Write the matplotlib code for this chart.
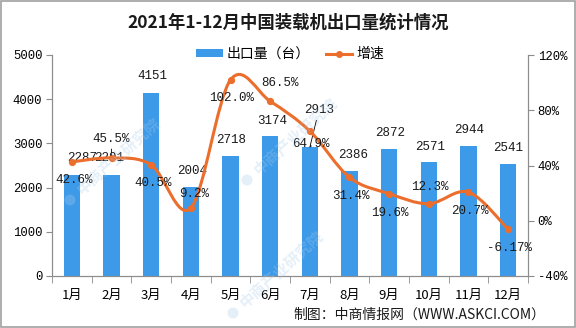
import matplotlib
matplotlib.use("Agg")
import matplotlib.pyplot as plt
from matplotlib.path import Path
from matplotlib.patches import PathPatch, Patch, Rectangle, Ellipse
from matplotlib.lines import Line2D

# ---- data -------------------------------------------------------------
months = ["1月", "2月", "3月", "4月", "5月", "6月",
          "7月", "8月", "9月", "10月", "11月", "12月"]
exports = [2287, 2291, 4151, 2004, 2718, 3174, 2913, 2386, 2872, 2571, 2944, 2541]
growth = [42.6, 45.5, 40.5, 9.2, 102.0, 86.5, 64.9, 31.4, 19.6, 12.3, 20.7, -6.17]
left_ticks = [0, 1000, 2000, 3000, 4000, 5000]
right_ticks = [-40, 0, 40, 80, 120]

title = "2021年1-12月中国装载机出口量统计情况"
bar_name = "出口量（台）"
line_name = "增速"
source = "制图：中商情报网（WWW.ASKCI.COM）"
brand = "中商产业研究院"

# ---- style ------------------------------------------------------------
BLUE = "#3C9AE8"
ORANGE = "#EC6E2C"
AXIS = "#8C8C8C"
CJK = ["Noto Sans CJK SC", "DejaVu Sans"]
MONO = ["Liberation Mono", "Noto Sans CJK SC"]
plt.rcParams["font.family"] = CJK

W, H = 576, 328
PX = 0.72  # pixels -> points at 100 dpi

# label offsets (pixels right, pixels up)
bar_off = [(10, 17), (-2, 17), (1, 16.5), (1, 16.5), (1, 16), (2, 15),
           (9, 37), (4, 15.5), (1, 16), (1, 15.5), (1, 16), (0, 16)]
line_off = [(2, -18), (0, 19), (2, -18), (3, 14), (1, -18), (10, 18),
            (1, -13), (1, -18.6), (1, -19), (1, 17), (1, -19), (1, -19)]

# brand stamp anchors (pixels from top-left)
stamps = [(70, 200), (247, 180), (233, 313)]

fig = plt.figure(figsize=(W / 100, H / 100), dpi=100)
ax = fig.add_axes([52 / W, 1 - 276 / H, 476 / W, 221 / H])
ax2 = ax.twinx()
ax.set_facecolor("none")

x = list(range(len(months)))

# bars
ax.bar(x, exports, width=0.42, color=BLUE, zorder=2)
ax.set_xlim(-0.5, len(months) - 0.5)
ax.set_ylim(left_ticks[0], left_ticks[-1])
ax.set_yticks(left_ticks)
ax.set_yticklabels([str(t) for t in left_ticks], fontsize=8.8, family=MONO)
ax.set_xticks(x)
ax.set_xticklabels(months, fontsize=9.5)
ax.set_xticks([i + 0.5 for i in range(-1, len(months))], minor=True)
ax.tick_params(axis="x", which="major", length=0, pad=9)
ax.tick_params(axis="x", which="minor", length=5, color=AXIS, direction="out")
ax.tick_params(axis="y", length=4, color=AXIS, pad=3)

ax.spines["top"].set_visible(False)
ax2.spines["top"].set_visible(False)
for a in (ax, ax2):
    for sp in ["left", "right", "bottom"]:
        a.spines[sp].set_color(AXIS)
        a.spines[sp].set_linewidth(0.8)

ax2.set_ylim(right_ticks[0], right_ticks[-1])
ax2.set_yticks(right_ticks)
ax2.set_yticklabels([f"{t}%" for t in right_ticks], fontsize=8.8, family=MONO)
ax2.tick_params(axis="y", length=4, color=AXIS, pad=3)

# smoothed growth line (Catmull-Rom through the points as cubic Beziers)
pts = list(zip(x, growth))
verts = [pts[0]]
codes = [Path.MOVETO]
n = len(pts)
for i in range(n - 1):
    p0 = pts[max(i - 1, 0)]
    p1 = pts[i]
    p2 = pts[i + 1]
    p3 = pts[min(i + 2, n - 1)]
    c1 = (p1[0] + (p2[0] - p0[0]) / 6, p1[1] + (p2[1] - p0[1]) / 6)
    c2 = (p2[0] - (p3[0] - p1[0]) / 6, p2[1] - (p3[1] - p1[1]) / 6)
    verts += [c1, c2, p2]
    codes += [Path.CURVE4] * 3
ax2.add_patch(PathPatch(Path(verts, codes), facecolor="none",
                        edgecolor=ORANGE, lw=2.2, zorder=3,
                        capstyle="round", joinstyle="round"))
ax2.plot(x, growth, linestyle="none", marker="o", ms=4.2,
         color=ORANGE, zorder=4)

# bar value labels
for i, v in enumerate(exports):
    dx, dy = bar_off[i]
    kw = {}
    if i == 6:
        kw["arrowprops"] = dict(arrowstyle="-", color="black", lw=0.6,
                                shrinkA=1, shrinkB=0)
    ax.annotate(str(v), xy=(i, v), xytext=(dx * PX, dy * PX),
                textcoords="offset points", ha="center", va="center",
                fontsize=9, family=MONO, color="#1A1A1A", zorder=6, **kw)

# growth value labels
for i, v in enumerate(growth):
    dx, dy = line_off[i]
    kw = {}
    if i == 1:
        kw["arrowprops"] = dict(arrowstyle="-", color="black", lw=0.6,
                                shrinkA=1, shrinkB=2)
    ax2.annotate(f"{v}%", xy=(i, v), xytext=(dx * PX, dy * PX),
                 textcoords="offset points", ha="center", va="center",
                 fontsize=9, family=MONO, color="#1A1A1A", zorder=6, **kw)

# title, legend, source
fig.text(288 / W, 1 - 23 / H, title, ha="center", va="center",
         fontsize=12.5, fontweight="bold", color="#1A1A1A")
handles = [Patch(facecolor=BLUE, edgecolor="none"),
           Line2D([], [], color=ORANGE, lw=2.2, marker="o", ms=4)]
fig.legend(handles, [bar_name, line_name], loc="center",
           bbox_to_anchor=(290 / W, 1 - 54 / H), ncol=2, frameon=False,
           fontsize=10, handlelength=1.9, handleheight=0.45,
           handletextpad=0.25, columnspacing=1.2)
fig.text(545 / W, 1 - 315 / H, source, ha="right", va="center",
         fontsize=10, color="#1A1A1A")

# faint diagonal brand stamps
for sx, sy in stamps:
    fig.patches.append(Ellipse((sx / W, 1 - sy / H), 11 / W, 11 / H,
                               transform=fig.transFigure,
                               facecolor="#A9CBEA", edgecolor="none",
                               alpha=0.3, zorder=5))
    fig.text((sx + 9) / W, 1 - (sy - 8) / H, brand, ha="left", va="center",
             rotation=42, rotation_mode="anchor", fontsize=11,
             fontweight="bold", color="#A9CBEA", alpha=0.3)

# figure border
fig.patches.append(Rectangle((0.001, 0.002), 0.997, 0.995,
                             transform=fig.transFigure, fill=False,
                             edgecolor="#A0A0A0", lw=1.2))

fig.savefig("out.png", dpi=100)
